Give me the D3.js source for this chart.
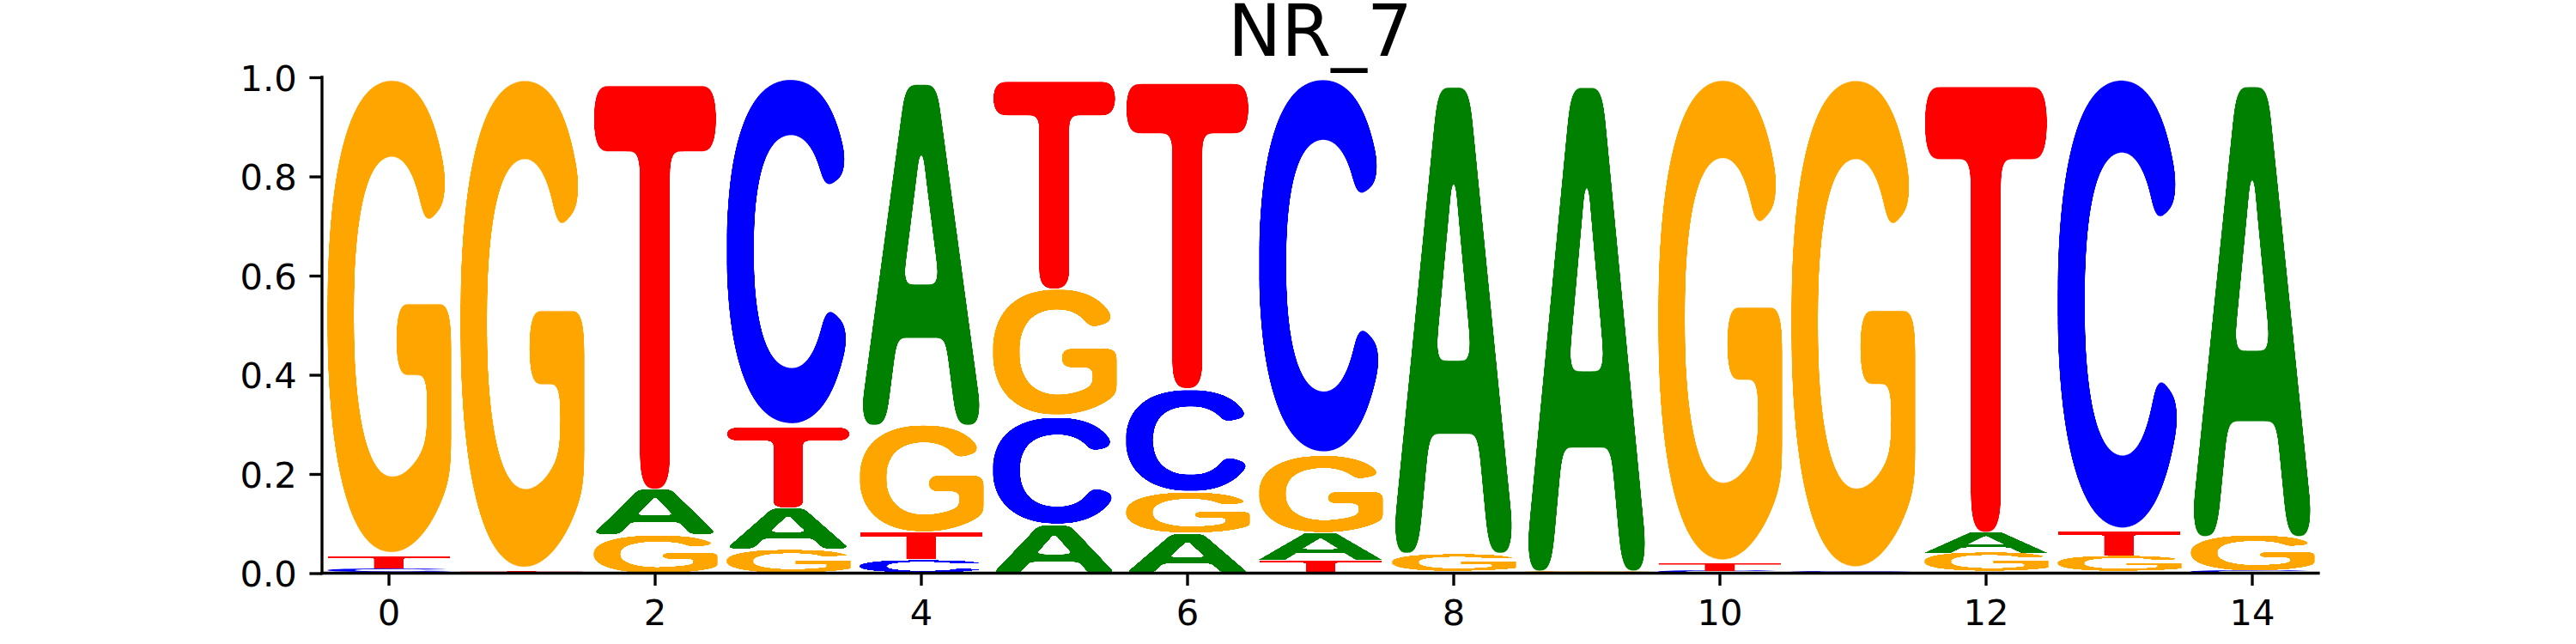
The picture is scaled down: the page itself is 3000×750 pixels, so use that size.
<!DOCTYPE html>
<html>
<head>
<meta charset="utf-8">
<script src="https://cdn.jsdelivr.net/npm/d3@7"></script>
<style>
  body { margin: 0; background: #ffffff; }
  svg { display: block; }
</style>
</head>
<body>
<svg id="chart" width="3000" height="750"></svg>
<script>
// ---------------- data ----------------
const chartTitle = "NR_7";
const positions = [0, 1, 2, 3, 4, 5, 6, 7, 8, 9, 10, 11, 12, 13, 14];
const letters = ["A", "C", "G", "T"];
const probA = [0.003, 0.001, 0.092, 0.083, 0.701, 0.099, 0.081, 0.055, 0.959, 0.995, 0.000, 0.001, 0.042, 0.003, 0.925];
const probC = [0.007, 0.001, 0.000, 0.704, 0.028, 0.218, 0.208, 0.761, 0.001, 0.001, 0.004, 0.003, 0.003, 0.916, 0.004];
const probG = [0.966, 0.996, 0.078, 0.049, 0.216, 0.257, 0.084, 0.158, 0.037, 0.003, 0.981, 0.995, 0.038, 0.032, 0.071];
const probT = [0.024, 0.002, 0.830, 0.164, 0.055, 0.426, 0.627, 0.026, 0.003, 0.001, 0.015, 0.001, 0.917, 0.049, 0.000];
const xTicks = [0, 2, 4, 6, 8, 10, 12, 14];
const yTicks = [0.0, 0.2, 0.4, 0.6, 0.8, 1.0];

const letterColors = { A: "#008000", C: "#0000ff", G: "#ffa500", T: "#ff0000" };
const seriesByLetter = { A: probA, C: probC, G: probG, T: probT };

(function () {
  // ---------------- layout ----------------
  const mLeft = 375, mRight = 2700, mTop = 90, mBottom = 667.5;
  const lw = 3.33;           // 0.8pt at 300 dpi
  const tickLen = 14.58;     // 3.5pt
  const tickPad = 14.58;
  const tickFont = 41.67;    // 10pt
  const titleFont = 83.33;   // 20pt
  const glyphWidth = 0.95;
  const fontFamily = "'DejaVu Sans', sans-serif";
  const glyphFont = "'Liberation Sans'";
  const roundSigma = 7;      // rounding of glyph terminals, in glyph font units
  const slope = 40;

  const svg = d3.select("#chart");

  const x = d3.scaleLinear().domain([-0.5, 14.5]).range([mLeft, mRight]);
  const y = d3.scaleLinear().domain([0, 1]).range([mBottom, mTop]);

  // rounding filters: erode then dilate (opening) with soft kernels
  const defs = svg.append("defs");
  letters.forEach(ch => {
    const f = defs.append("filter")
      .attr("id", "round-" + ch)
      .attr("x", "-15%").attr("y", "-15%")
      .attr("width", "130%").attr("height", "130%")
      .attr("color-interpolation-filters", "sRGB");
    f.append("feGaussianBlur").attr("in", "SourceAlpha").attr("stdDeviation", roundSigma).attr("result", "b1");
    f.append("feComponentTransfer").attr("in", "b1").attr("result", "e1")
      .append("feFuncA").attr("type", "linear").attr("slope", slope).attr("intercept", 0.5 - slope * 0.84);
    f.append("feGaussianBlur").attr("in", "e1").attr("stdDeviation", roundSigma).attr("result", "b2");
    f.append("feComponentTransfer").attr("in", "b2").attr("result", "d1")
      .append("feFuncA").attr("type", "linear").attr("slope", slope).attr("intercept", 0.5 - slope * 0.16);
    f.append("feFlood").attr("flood-color", letterColors[ch]).attr("result", "c");
    f.append("feComposite").attr("in", "c").attr("in2", "d1").attr("operator", "in");
  });

  // glyph metrics from canvas (tight ink bounds)
  const canvas = document.createElement("canvas");
  const ctx = canvas.getContext("2d");
  const measureSize = 400;
  ctx.font = `bold ${measureSize}px ${glyphFont}`;
  const metrics = {};
  letters.forEach(ch => {
    const m = ctx.measureText(ch);
    metrics[ch] = {
      L: m.actualBoundingBoxLeft,
      R: m.actualBoundingBoxRight,
      A: m.actualBoundingBoxAscent,
      D: m.actualBoundingBoxDescent
    };
  });

  // build stacked glyph table (small values at the bottom)
  const glyphs = [];
  positions.forEach((p, i) => {
    const vals = letters.map(ch => ({ ch, v: seriesByLetter[ch][i] }))
      .filter(d => d.v > 0)
      .sort((a, b) => a.v - b.v);
    let cum = 0;
    vals.forEach(d => {
      glyphs.push({ pos: p, ch: d.ch, y0: cum, y1: cum + d.v });
      cum += d.v;
    });
  });

  svg.append("g").attr("class", "glyphs")
    .selectAll("text")
    .data(glyphs)
    .join("text")
    .text(d => d.ch)
    .attr("font-family", glyphFont)
    .attr("font-weight", "bold")
    .attr("font-size", measureSize)
    .attr("fill", d => letterColors[d.ch])
    .attr("x", 0)
    .attr("y", 0)
    .attr("filter", d => (y(d.y0) - y(d.y1)) > 12 ? `url(#round-${d.ch})` : null)
    .attr("transform", d => {
      const m = metrics[d.ch];
      const x0 = x(d.pos - glyphWidth / 2);
      const x1 = x(d.pos + glyphWidth / 2);
      const yt = y(d.y1);
      const yb = y(d.y0);
      const sx = (x1 - x0) / (m.L + m.R);
      const sy = (yb - yt) / (m.A + m.D);
      return `translate(${x0},${yt}) scale(${sx},${sy}) translate(${m.L},${m.A})`;
    });

  // ---------------- axes ----------------
  const yAxis = d3.axisLeft(y)
    .tickValues(yTicks)
    .tickFormat(d3.format(".1f"))
    .tickSize(tickLen)
    .tickSizeOuter(0)
    .tickPadding(tickPad);

  const gy = svg.append("g")
    .attr("transform", `translate(${mLeft},0)`)
    .call(yAxis);

  const xAxis = d3.axisBottom(x)
    .tickValues(xTicks)
    .tickFormat(d3.format("d"))
    .tickSize(tickLen)
    .tickSizeOuter(0)
    .tickPadding(tickPad);

  const gx = svg.append("g")
    .attr("transform", `translate(0,${mBottom})`)
    .call(xAxis);

  [gx, gy].forEach(g => {
    g.select(".domain").remove();
    g.selectAll(".tick line").attr("stroke", "#000").attr("stroke-width", lw);
    g.selectAll(".tick text")
      .attr("font-family", fontFamily)
      .attr("font-size", tickFont)
      .attr("fill", "#000");
  });
  gy.selectAll(".tick text").attr("dy", "0.365em");
  gx.selectAll(".tick text").attr("dy", "0.76em");

  // spines (left and bottom)
  svg.append("line")
    .attr("x1", mLeft).attr("x2", mLeft)
    .attr("y1", y(1) - lw / 2).attr("y2", y(0) + lw / 2)
    .attr("stroke", "#000").attr("stroke-width", lw);
  svg.append("line")
    .attr("x1", mLeft - lw / 2).attr("x2", x(14.5) + lw / 2)
    .attr("y1", mBottom).attr("y2", mBottom)
    .attr("stroke", "#000").attr("stroke-width", lw);

  // title
  svg.append("text")
    .attr("x", (mLeft + mRight) / 2)
    .attr("y", mTop - 25)
    .attr("text-anchor", "middle")
    .attr("font-family", fontFamily)
    .attr("font-size", titleFont)
    .attr("fill", "#000")
    .text(chartTitle);
})();
</script>
</body>
</html>
